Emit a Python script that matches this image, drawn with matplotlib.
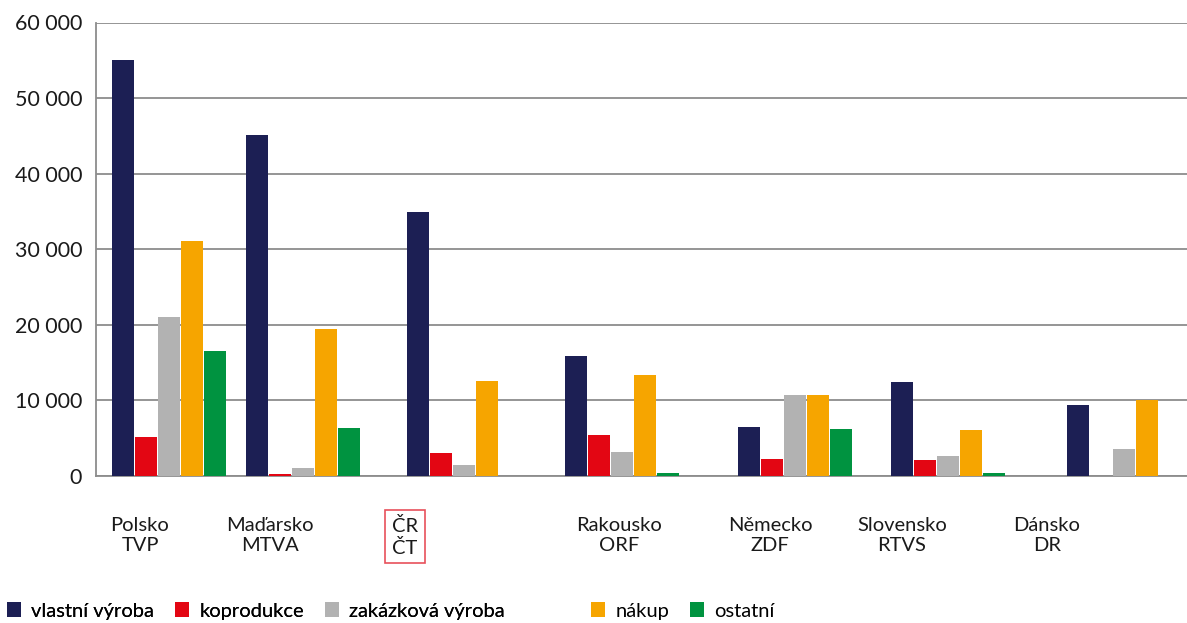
import matplotlib.pyplot as plt
from matplotlib.patches import Patch

# ---- DATA ----
stations = ["Polsko\nTVP", "Maďarsko\nMTVA", "ČR\nČT", "Rakousko\nORF",
            "Německo\nZDF", "Slovensko\nRTVS", "Dánsko\nDR"]
series_names = ["vlastní výroba", "koprodukce", "zakázková výroba", "nákup", "ostatní"]
vlastni = [55000, 45100, 34900, 15900, 6500, 12400, 9400]
koprodukce = [5200, 300, 3000, 5400, 2250, 2100, 0]
zakazkova = [21050, 1050, 1450, 3150, 10700, 2650, 3550]
nakup = [31100, 19400, 12550, 13350, 10700, 6100, 10000]
ostatni = [16500, 6350, 0, 400, 6200, 400, 0]
yticks = [0, 10000, 20000, 30000, 40000, 50000, 60000]

# ---- LAYOUT (x in pixel-like units, as the original chart spaces groups unevenly) ----
group_start = [112, 246, 407, 565, 738, 891, 1067]
label_pos = [140, 270, 405, 619, 770, 902, 1047]
BAR_W = 22
PITCH = 23
colors = ["#1c1f54", "#e30613", "#b2b2b2", "#f6a500", "#009340"]

plt.rcParams["font.family"] = ["Lato", "DejaVu Sans"]

fig = plt.figure(figsize=(11.87, 6.23), dpi=100)
ax = fig.add_axes([96 / 1187, 1 - 476 / 623, 1 - 96 / 1187, (476 - 22.5) / 623])

all_series = [vlastni, koprodukce, zakazkova, nakup, ostatni]
for k, (vals, col) in enumerate(zip(all_series, colors)):
    xs = [g + k * PITCH for g in group_start]
    ax.bar(xs, vals, width=BAR_W, align="edge", color=col, zorder=3, linewidth=0)

ax.set_xlim(96, 1187)
ax.set_ylim(0, 60000)
ax.set_yticks(yticks)
ax.set_yticklabels([f"{v:,}".replace(",", " ") for v in yticks])
ax.yaxis.grid(True, color="#8c8c8c", linewidth=1.3, zorder=0)
ax.set_axisbelow(True)

for s in ["top", "right"]:
    ax.spines[s].set_visible(False)
ax.spines["left"].set_color("#8c8c8c")
ax.spines["left"].set_linewidth(1.3)
ax.spines["bottom"].set_color("#8c8c8c")
ax.spines["bottom"].set_linewidth(1.3)

ax.tick_params(axis="y", length=0, pad=10, labelsize=15.5, labelcolor="#1a1a1a")

# station labels as plain text under the axis (centred lines)
ax.set_xticks([])
for x, name in zip(label_pos, stations):
    t = ax.text(x, -0.09, name, transform=ax.get_xaxis_transform(), ha="center", va="top",
                multialignment="center", fontsize=14.5, color="#1a1a1a", linespacing=1.25)
    if name.startswith("ČR"):
        t.set_bbox(dict(boxstyle="square,pad=0.32", facecolor="none",
                        edgecolor="#e8505b", linewidth=1.2))

# legend in two pieces: the original leaves a wide gap before "nákup"
handles = [Patch(facecolor=c, edgecolor="none") for c in colors]
leg_kw = dict(loc="center left", frameon=False, fontsize=14.5, handlelength=0.7,
              handleheight=0.7, handletextpad=0.5, columnspacing=1.05,
              borderpad=0, borderaxespad=0)
leg1 = fig.legend(handles[:3], series_names[:3], ncol=3,
                  bbox_to_anchor=(7 / 1187, 1 - 611 / 623), **leg_kw)
fig.add_artist(leg1)
fig.legend(handles[3:], series_names[3:], ncol=2,
           bbox_to_anchor=(591 / 1187, 1 - 611 / 623), **leg_kw)

fig.savefig("out.png", dpi=100)
